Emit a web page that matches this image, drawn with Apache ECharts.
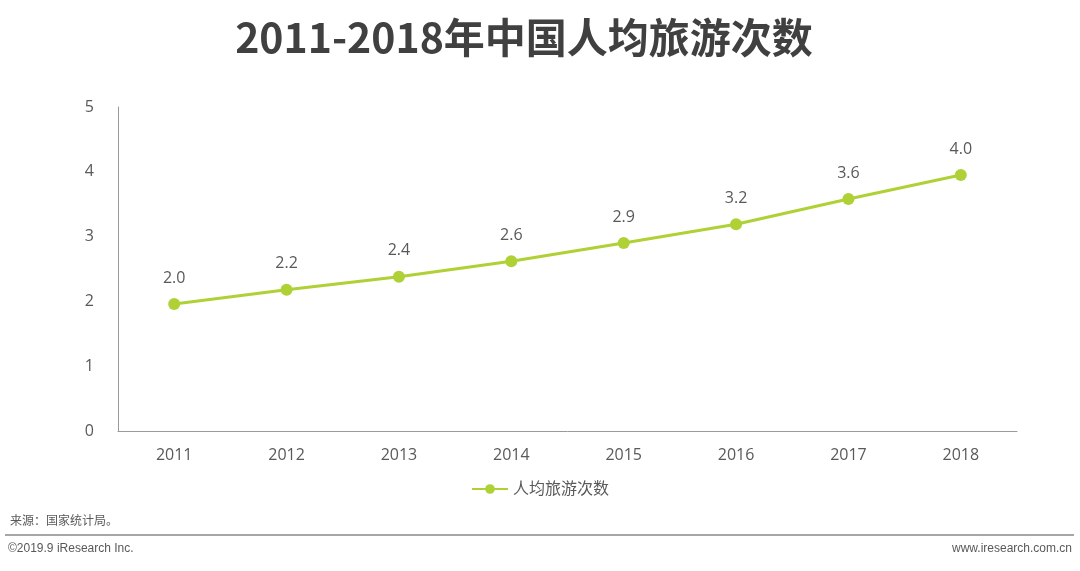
<!DOCTYPE html>
<html><head><meta charset="utf-8">
<script src="https://cdn.jsdelivr.net/npm/echarts@6/dist/echarts.min.js"></script>
<style>html,body{margin:0;padding:0;background:#fff}#c{width:1080px;height:571px}</style>
</head><body><div id="c"></div>
<script>
const categories = ['2011','2012','2013','2014','2015','2016','2017','2018'];
const seriesName = '人均旅游次数';
const values = [1.96, 2.18, 2.38, 2.62, 2.90, 3.19, 3.58, 3.95];
const yTicks = [0, 1, 2, 3, 4, 5];
const titleText = '2011-2018年中国人均旅游次数';
const sourceText = '来源：国家统计局。';
const copyText = '©2019.9 iResearch Inc.';
const siteText = 'www.iresearch.com.cn';

const font = '"Open Sans","Noto Sans CJK SC",sans-serif';
const green = '#afd136';
const chart = echarts.init(document.getElementById('c'));
chart.setOption({
  animation: false,
  title: { text: titleText, left: 519, textAlign: 'center', top: 12,
    textStyle: { fontSize: 41, fontWeight: 'bold', color: '#404040', fontFamily: '"Noto Sans CJK SC",sans-serif' } },
  legend: { data: [seriesName], left: 'center', top: 476, itemWidth: 36, itemHeight: 12,
    textStyle: { fontSize: 16, color: '#595959', fontFamily: font } },
  grid: { left: 118, right: 63, top: 107, bottom: 140, containLabel: false },
  xAxis: { type: 'category', data: categories, boundaryGap: true,
    axisLine: { lineStyle: { color: '#999', width: 1 } }, axisTick: { show: false },
    axisLabel: { fontSize: 16, color: '#595959', margin: 16, fontFamily: font } },
  yAxis: { type: 'value', min: yTicks[0], max: yTicks[yTicks.length-1], interval: 1,
    axisLine: { show: true, lineStyle: { color: '#999', width: 1 } }, axisTick: { show: false },
    splitLine: { show: false },
    axisLabel: { fontSize: 16, color: '#595959', margin: 24, fontFamily: font } },
  series: [{ name: seriesName, type: 'line', data: values, symbol: 'circle', symbolSize: 12,
    lineStyle: { color: green, width: 3 }, itemStyle: { color: green },
    label: { show: true, position: 'top', distance: 12, fontSize: 16, color: '#595959', fontFamily: font,
      formatter: p => p.value.toFixed(1) } }],
  graphic: [
    { type: 'text', left: 10, top: 514, style: { text: sourceText, fontSize: 12, fill: '#595959', fontFamily: '"Noto Sans CJK SC",sans-serif' } },
    { type: 'line', shape: { x1: 5, y1: 535, x2: 1074, y2: 535 }, style: { stroke: '#888', lineWidth: 1.5 } },
    { type: 'text', left: 8, top: 543, style: { text: copyText, fontSize: 12, fill: '#595959', fontFamily: '"Liberation Sans",Arial,sans-serif' } },
    { type: 'text', right: 8, top: 543, style: { text: siteText, fontSize: 12, fill: '#595959', fontFamily: '"Liberation Sans",Arial,sans-serif' } }
  ]
});
</script></body></html>
